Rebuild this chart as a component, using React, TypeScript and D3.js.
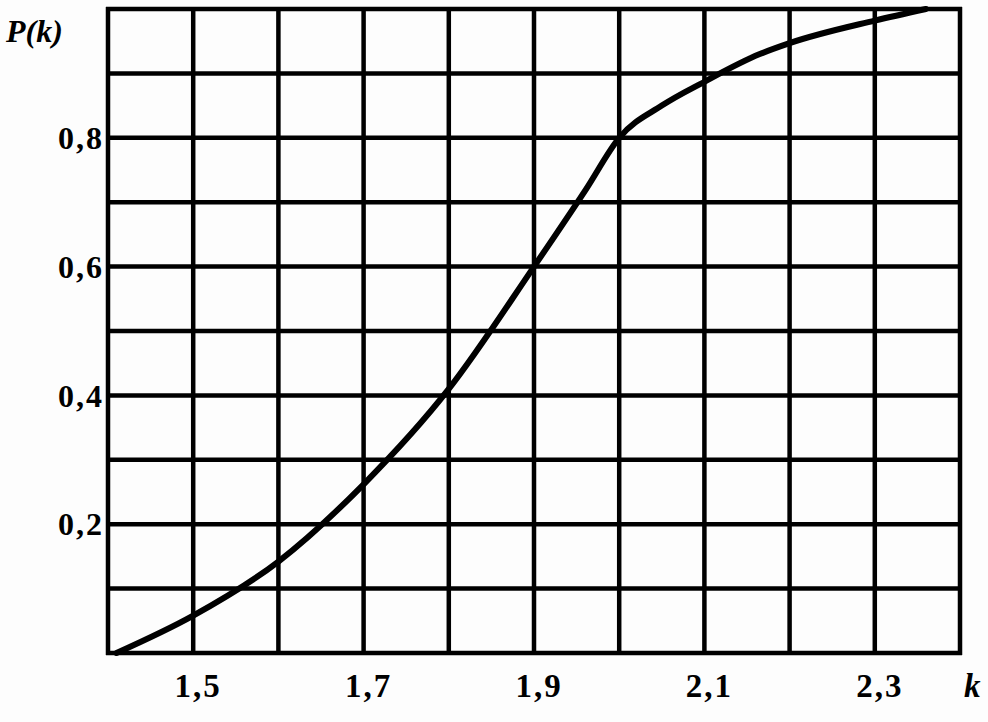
import React from "react";
import * as d3 from "d3";

const kValues = [1.41, 1.5, 1.6, 1.7, 1.8, 1.9, 1.961, 2.0, 2.05, 2.1, 2.165, 2.2, 2.3, 2.36];
const pValues = [0.0, 0.058, 0.142, 0.262, 0.41, 0.6, 0.72, 0.8, 0.85, 0.887, 0.93, 0.947, 0.982, 1.0];

const xGrid = [1.4, 1.5, 1.6, 1.7, 1.8, 1.9, 2.0, 2.1, 2.2, 2.3, 2.4];
const yGrid = [0, 0.1, 0.2, 0.3, 0.4, 0.5, 0.6, 0.7, 0.8, 0.9, 1.0];
const xTicks = [1.5, 1.7, 1.9, 2.1, 2.3];
const xTickLabels = ["1,5", "1,7", "1,9", "2,1", "2,3"];
const yTicks = [0.2, 0.4, 0.6, 0.8];
const yTickLabels = ["0,2", "0,4", "0,6", "0,8"];

export default function App() {
  const W = 988, H = 722;
  const x = d3.scaleLinear().domain([1.4, 2.4]).range([108, 960]);
  const y = d3.scaleLinear().domain([0, 1]).range([653, 9]);
  const pts: [number, number][] = kValues.map((k, i) => [k, pValues[i]]);
  const line = d3
    .line<[number, number]>()
    .x((d) => x(d[0]))
    .y((d) => y(d[1]))
    .curve(d3.curveMonotoneX);
  const font = "'Liberation Serif', 'DejaVu Serif', serif";
  return (
    <svg width={W} height={H} style={{ position: "absolute", left: 0, top: 0, background: "#fff" }}>
      <rect x={0} y={0} width={W} height={H} fill="#fdfdfd" />
      {xGrid.map((k) => (
        <line key={"vx" + k} x1={x(k)} x2={x(k)} y1={y(0) + 2} y2={y(1) - 2} stroke="#000" strokeWidth={4.5} />
      ))}
      {yGrid.map((v) => (
        <line key={"hy" + v} x1={x(1.4) - 2} x2={x(2.4) + 2} y1={y(v)} y2={y(v)} stroke="#000" strokeWidth={4.5} />
      ))}
      <path d={line(pts) || ""} fill="none" stroke="#000" strokeWidth={6} strokeLinecap="round" strokeLinejoin="round" />
      {yTicks.map((v, i) => (
        <text key={"yt" + v} x={104} y={y(v)} dy="0.35em" textAnchor="end" fontFamily={font} fontWeight="bold" fontSize={32} letterSpacing={2}>
          {yTickLabels[i]}
        </text>
      ))}
      {xTicks.map((k, i) => (
        <text key={"xt" + k} x={x(k) + 5} y={697} textAnchor="middle" fontFamily={font} fontWeight="bold" fontSize={33} letterSpacing={2}>
          {xTickLabels[i]}
        </text>
      ))}
      <text x={6} y={42} fontFamily={font} fontWeight="bold" fontStyle="italic" fontSize={32}>
        P(k)
      </text>
      <text x={964} y={697} fontFamily={font} fontWeight="bold" fontStyle="italic" fontSize={33}>
        k
      </text>
    </svg>
  );
}
